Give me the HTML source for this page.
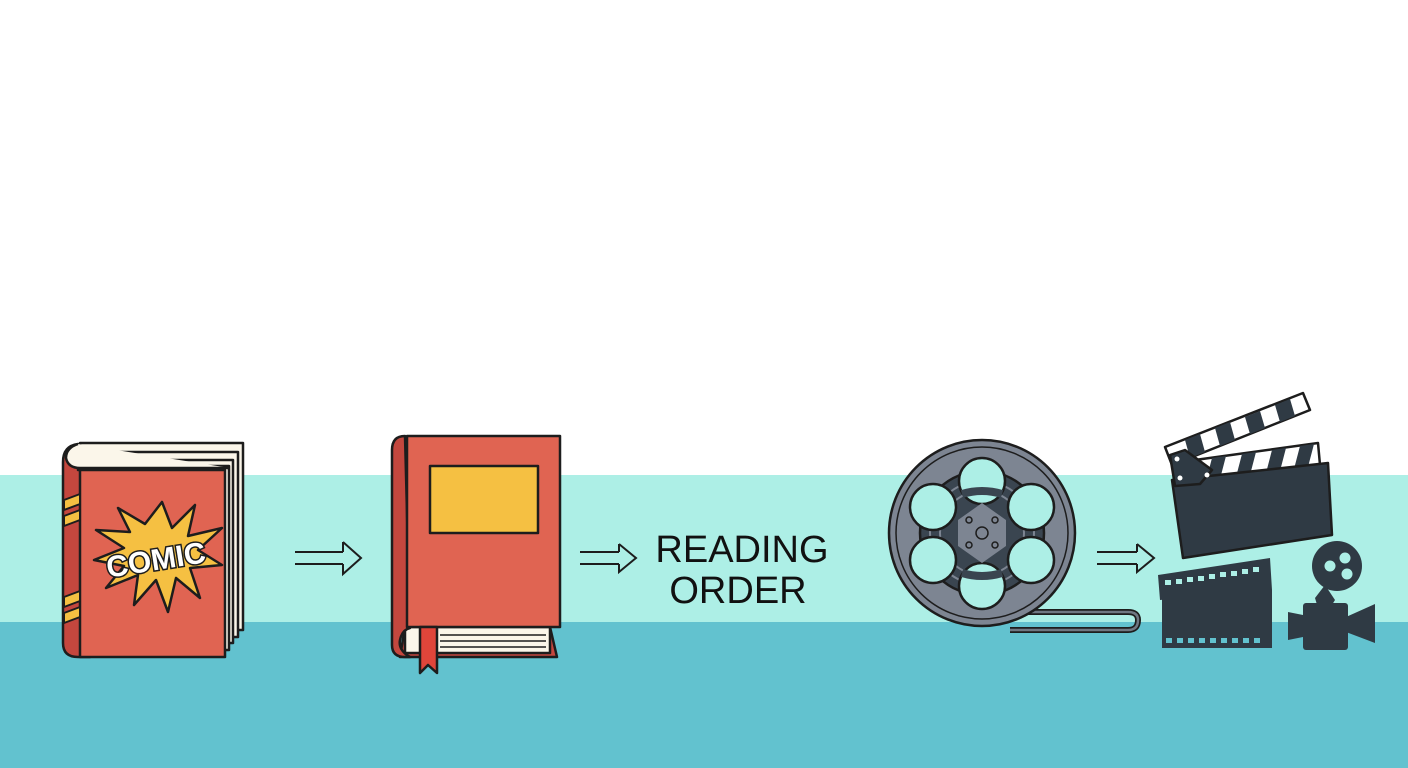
<!DOCTYPE html>
<html><head><meta charset="utf-8"><style>
html,body{margin:0;padding:0;width:1408px;height:768px;overflow:hidden;background:#fff}
svg{display:block}
</style></head><body>
<svg width="1408" height="768" viewBox="0 0 1408 768" xmlns="http://www.w3.org/2000/svg">
<rect x="0" y="0" width="1408" height="475" fill="#ffffff"/>
<rect x="0" y="475" width="1408" height="148" fill="#adefe6"/>
<rect x="0" y="622" width="1408" height="146" fill="#62c2cf"/>

<!-- Comic book -->
<g stroke="#1d1d1d" stroke-width="2.5" stroke-linejoin="round">
  <path d="M80 443 H243 V630 H80 Z" fill="#fbf6ea"/>
  <path d="M78 452 H238 V637 H78 Z" fill="#fbf6ea"/>
  <path d="M78 460 H233 V643 H78 Z" fill="#fbf6ea"/>
  <path d="M78 466 H229 V650 H78 Z" fill="#fbf6ea"/>
  <path d="M78 444 Q63 446 63 462 V643 Q63 657 78 657 H90 V470 H78 Z" fill="#c4473e"/>
  <path d="M78 444 Q66 448 66 458 Q68 468 80 468 H230" fill="#fbf6ea"/>
  <path d="M80 470 H225 V657 H80 Z" fill="#e06452"/>
  <path d="M64 500 L80 494 V504 L64 510 Z M64 516 L80 510 V520 L64 526 Z M64 597 L80 591 V601 L64 607 Z M64 613 L80 607 V617 L64 623 Z" fill="#f5c042" stroke-width="2"/>
  <path d="M162 502 L172 528 L195 505 L188 536 L222 528 L198 550 L222 565 L190 568 L200 598 L176 578 L168 612 L156 580 L134 605 L138 575 L106 588 L124 566 L94 560 L124 548 L96 530 L130 532 L118 508 L145 524 Z" fill="#f5c042"/>
</g>
<text x="156" y="570" font-family="Liberation Sans, sans-serif" font-weight="bold" font-size="30" fill="#fff" stroke="#1d1d1d" stroke-width="3" paint-order="stroke" text-anchor="middle" transform="rotate(-9 156 560)">COMIC</text>

<!-- Arrows -->
<g fill="none" stroke="#1d1d1d" stroke-width="2">
  <path d="M295 552 H343 M295 564 H343 M343 542 L361 558 L343 574 V564 M343 552 V542"/>
  <path d="M580 552 H619 M580 564 H619 M619 544 L636 558 L619 572 V564 M619 552 V544"/>
  <path d="M1097 552 H1137 M1097 564 H1137 M1137 544 L1154 558 L1137 572 V564 M1137 552 V544"/>
</g>

<!-- Book 2 -->
<g stroke="#1d1d1d" stroke-width="2.5" stroke-linejoin="round">
  <path d="M405 627 H550 L557 657 H400 Z" fill="#c4473e"/>
  <path d="M405 627 H550 V653 H405 Z" fill="#fbf6ea"/>
  <path d="M405 436 Q392 436 392 450 V645 Q392 657 405 657 L410 657 Q398 650 400 640 Q402 630 410 628 Z" fill="#c4473e"/>
  <path d="M407 436 H560 V627 H407 Z" fill="#e06452"/>
  <path d="M430 466 H538 V533 H430 Z" fill="#f5c042"/>
  <path d="M420 627 H437 V673 L428 665 L420 673 Z" fill="#e0453a"/>
</g>
<g stroke="#1d1d1d" stroke-width="1.5"><path d="M440 635 H546 M440 641 H546 M440 647 H546"/></g>

<text font-family="Liberation Sans, sans-serif" font-size="38" fill="#111" text-anchor="middle"><tspan x="742" y="562">READING</tspan><tspan x="738" y="603">ORDER</tspan></text>

<!-- Reel -->
<g stroke="#1d1d1d" stroke-width="2.5">
  <path d="M1010 612 H1128 Q1138 612 1138 620 Q1138 630 1128 630 H1010" fill="none" stroke-width="6"/>
  <path d="M1010 612 H1128 Q1138 612 1138 620 Q1138 630 1128 630 H1010" fill="none" stroke="#6f7782" stroke-width="2.5"/>
  <circle cx="982" cy="533" r="93" fill="#7d8592"/>
  <circle cx="982" cy="533" r="86" fill="none" stroke-width="1.5"/>
  <circle cx="982" cy="533" r="62" fill="#3a4550"/>
  <circle cx="982" cy="533" r="52" fill="none" stroke="#7d8592" stroke-width="2"/>
  <circle cx="982" cy="533" r="42" fill="none" stroke="#7d8592" stroke-width="2"/>
  <g fill="#adefe6">
    <circle cx="982" cy="481" r="23"/>
    <circle cx="1031" cy="507" r="23"/>
    <circle cx="1031" cy="560" r="23"/>
    <circle cx="982" cy="586" r="23"/>
    <circle cx="933" cy="560" r="23"/>
    <circle cx="933" cy="507" r="23"/>
  </g>
  <g fill="none" stroke="#3a4550" stroke-width="8">
    <path d="M962 494 Q982 488 1002 494"/>
    <path d="M962 573 Q982 579 1002 573"/>
  </g>
  <path d="M982 503 L1006 520 L1006 546 L982 563 L958 546 L958 520 Z" fill="#7d8592" stroke="none"/>
  <circle cx="982" cy="533" r="6" fill="#7d8592" stroke-width="1.5"/>
  <g fill="#7d8592" stroke-width="1.5"><circle cx="969" cy="520" r="3"/><circle cx="995" cy="520" r="3"/><circle cx="969" cy="545" r="3"/><circle cx="995" cy="545" r="3"/></g>
</g>

<!-- Clapperboard -->
<g stroke="#1d1d1d" stroke-width="2.5" stroke-linejoin="round">
  <path d="M1165 447 L1303 393 L1310 410 L1172 465 Z" fill="#fff"/>
  <g fill="#2f3a44" stroke="none">
    <path d="M1185 440 L1200 434 L1205 452 L1190 458 Z M1215 428 L1230 422 L1235 440 L1220 446 Z M1245 417 L1260 411 L1265 428 L1250 434 Z M1275 405 L1290 399 L1295 416 L1280 422 Z"/>
  </g>
  <path d="M1195 460 L1318 443 L1320 465 L1198 482 Z" fill="#fff"/>
  <g fill="#2f3a44" stroke="none">
    <path d="M1212 458 L1226 456 L1220 479 L1206 481 Z M1242 454 L1256 452 L1250 475 L1236 477 Z M1272 450 L1286 448 L1280 471 L1266 473 Z M1300 446 L1314 444 L1308 467 L1294 469 Z"/>
  </g>
  <path d="M1172 480 L1328 463 L1332 535 L1183 558 Z" fill="#2f3a44"/>
  <path d="M1170 455 L1185 450 L1212 470 L1200 484 L1175 486 Z" fill="#2f3a44"/>
</g>
<g fill="#fff"><circle cx="1177" cy="459" r="2.5"/><circle cx="1180" cy="478" r="2.5"/><circle cx="1207" cy="475" r="2.5"/></g>

<!-- film strip -->
<g fill="#2f3a44">
  <path d="M1158 575 L1270 558 L1272 590 L1160 600 Z"/>
  <rect x="1162" y="590" width="110" height="58"/>
</g>
<g fill="#adefe6">
  <rect x="1165" y="580" width="6" height="5"/><rect x="1176" y="579" width="6" height="5"/><rect x="1187" y="577" width="6" height="5"/><rect x="1198" y="576" width="6" height="5"/><rect x="1209" y="574" width="6" height="5"/><rect x="1220" y="572" width="6" height="5"/><rect x="1231" y="571" width="6" height="5"/><rect x="1242" y="569" width="6" height="5"/><rect x="1253" y="567" width="6" height="5"/>
</g>
<g fill="#62c2cf">
  <rect x="1166" y="638" width="6" height="5"/><rect x="1177" y="638" width="6" height="5"/><rect x="1188" y="638" width="6" height="5"/><rect x="1199" y="638" width="6" height="5"/><rect x="1210" y="638" width="6" height="5"/><rect x="1221" y="638" width="6" height="5"/><rect x="1232" y="638" width="6" height="5"/><rect x="1243" y="638" width="6" height="5"/><rect x="1254" y="638" width="6" height="5"/>
</g>

<!-- camera -->
<g fill="#2f3a44">
  <circle cx="1337" cy="566" r="25"/>
  <path d="M1325 585 L1335 600 L1330 608 H1318 L1315 598 Z"/>
  <rect x="1303" y="603" width="45" height="47" rx="3"/>
  <path d="M1303 615 L1288 612 V640 L1303 637 Z"/>
  <path d="M1346 617 L1375 604 V643 L1346 632 Z"/>
</g>
<g fill="#adefe6"><circle cx="1330" cy="566" r="5.5"/><circle cx="1345" cy="558" r="5.5"/><circle cx="1347" cy="574" r="5.5"/></g>
</svg>
</body></html>
